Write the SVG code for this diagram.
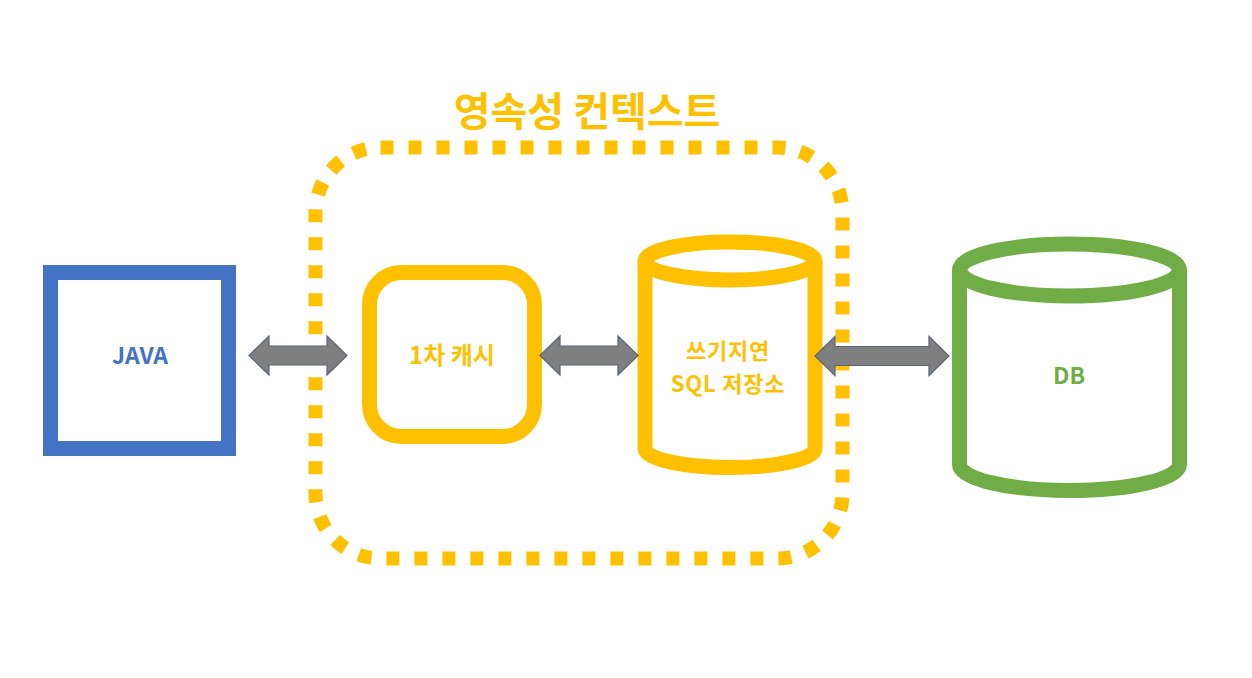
<svg xmlns="http://www.w3.org/2000/svg" width="1252" height="678" viewBox="0 0 1252 678">
<style>
.lbl{font-family:"Malgun Gothic","Noto Sans CJK KR","Noto Sans",sans-serif;font-weight:bold;text-anchor:middle;}
.y{fill:#FFC000;}
.arrow{fill:#7F7F7F;stroke:#5A6474;stroke-width:1.2;stroke-linejoin:miter;}
</style>
<rect width="1252" height="678" fill="#FFFFFF"/>
<g id="context">
<rect x="315.5" y="147.5" width="527" height="411" rx="65" ry="65" fill="none" stroke="#FFC000" stroke-width="14" stroke-dasharray="13 15"/>
<text class="lbl y" x="587" y="126" font-size="40">영속성 컨텍스트</text>
</g>
<g id="java">
<rect x="50.5" y="272.5" width="178" height="176" fill="#FFFFFF" stroke="#4472C4" stroke-width="15"/>
<text class="lbl" x="140" y="364" font-size="23" fill="#4472C4">JAVA</text>
</g>
<g id="cache">
<rect x="369.5" y="272.5" width="165" height="164" rx="32" ry="32" fill="#FFFFFF" stroke="#FFC000" stroke-width="15"/>
<text class="lbl y" x="452" y="364" font-size="24">1차 캐시</text>
</g>
<g id="sqlstore">
<path d="M645,261 L645,448.5 A85,19 0 0 0 815,448.5 L815,261 A85,19 0 0 0 645,261 A85,19 0 0 0 815,261" fill="#FFFFFF" stroke="#FFC000" stroke-width="15" stroke-linejoin="round"/>
<text class="lbl y" x="728" y="359" font-size="22" letter-spacing="0.8">쓰기지연</text>
<text class="lbl y" x="728" y="392" font-size="22" letter-spacing="0.8">SQL 저장소</text>
</g>
<g id="db">
<path d="M959.5,270 L959.5,464.5 A110,26 0 0 0 1179.5,464.5 L1179.5,270 A110,26 0 0 0 959.5,270 A110,26 0 0 0 1179.5,270" fill="#FFFFFF" stroke="#70AD47" stroke-width="15" stroke-linejoin="round"/>
<text class="lbl" x="1069" y="384" font-size="23" fill="#70AD47">DB</text>
</g>
<g id="connectors">
<polygon class="arrow" points="249,355.5 269,336 269,346 327,346 327,336 347,355.5 327,375 327,365 269,365 269,375"/>
<polygon class="arrow" points="540,355.5 560,336 560,346 618,346 618,336 638,355.5 618,375 618,365 560,365 560,375"/>
<polygon class="arrow" points="815,356 835,336.5 835,346.5 929,346.5 929,336.5 949,356 929,375.5 929,365.5 835,365.5 835,375.5"/>
</g>
</svg>
